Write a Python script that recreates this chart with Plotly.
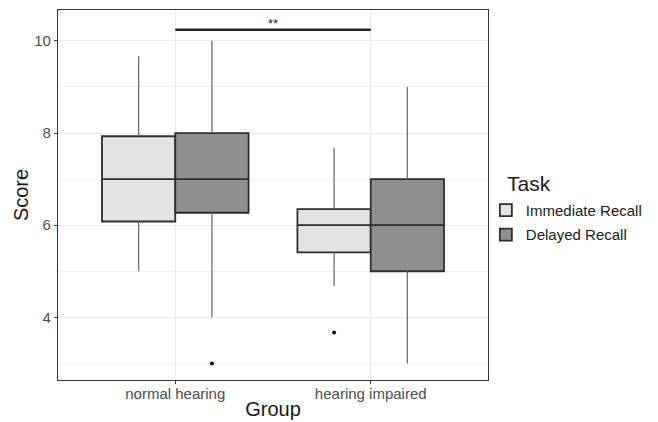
import plotly.graph_objects as go

# ---- data ----
groups = ["normal hearing", "hearing impaired"]
tasks = ["Immediate Recall", "Delayed Recall"]
legend_title = "Task"

imm_low = [5.0, 4.68]
imm_q1 = [6.08, 5.41]
imm_med = [7.0, 6.0]
imm_q3 = [7.93, 6.35]
imm_high = [9.67, 7.68]
imm_outliers = [[], [3.67]]

del_low = [4.0, 3.0]
del_q1 = [6.27, 5.0]
del_med = [7.0, 6.0]
del_q3 = [8.0, 7.0]
del_high = [10.0, 9.0]
del_outliers = [[3.0], []]

sig_pair = ["normal hearing", "hearing impaired"]
sig_y = 10.24
sig_label = "**"

y_ticks = [4, 6, 8, 10]

# ---- styling ----
fills = ["#e3e3e3", "#8f8f8f"]
box_line = "#2e2e2e"
whisk_col = "#6e6e6e"
dodge = 0.75
bw = dodge / 2
FONT = "Liberation Sans, Arial, sans-serif"

series = [
    (tasks[0], imm_low, imm_q1, imm_med, imm_q3, imm_high, imm_outliers),
    (tasks[1], del_low, del_q1, del_med, del_q3, del_high, del_outliers),
]

fig = go.Figure()
centers = list(range(1, len(groups) + 1))

for k, (name, lo, q1, med, q3, hi, outs) in enumerate(series):
    off = -dodge / 4 if k == 0 else dodge / 4
    xs = [c + off for c in centers]
    # whiskers
    wx, wy = [], []
    for i, x in enumerate(xs):
        wx += [x, x, None, x, x, None]
        wy += [lo[i], q1[i], None, q3[i], hi[i], None]
    fig.add_trace(go.Scatter(x=wx, y=wy, mode="lines",
                             line=dict(color=whisk_col, width=1.3),
                             showlegend=False, hoverinfo="skip"))
    # boxes
    fig.add_trace(go.Box(
        name=name, x=xs, q1=q1, median=med, q3=q3,
        lowerfence=q1, upperfence=q3, width=bw,
        fillcolor=fills[k], line=dict(color=box_line, width=1.8),
        whiskerwidth=0, boxpoints=False, legendgroup=name,
    ))
    # outliers
    ox, oy = [], []
    for i, x in enumerate(xs):
        for v in outs[i]:
            ox.append(x)
            oy.append(v)
    if ox:
        fig.add_trace(go.Scatter(x=ox, y=oy, mode="markers",
                                 marker=dict(color="#111111", size=4),
                                 showlegend=False, hoverinfo="skip"))

# significance bracket
x0 = groups.index(sig_pair[0]) + 1
x1 = groups.index(sig_pair[1]) + 1
fig.add_shape(type="line", x0=x0, x1=x1, y0=sig_y, y1=sig_y,
              line=dict(color="#222222", width=2.5), layer="above")
fig.add_annotation(x=(x0 + x1) / 2, y=sig_y, text=sig_label, showarrow=False,
                   yanchor="bottom", yshift=-3, font=dict(size=13, color="#222222", family=FONT))

# legend title as annotation
fig.add_annotation(xref="paper", yref="paper", x=1.04, y=0.53, xanchor="left",
                   yanchor="middle", text=legend_title, showarrow=False,
                   font=dict(size=21, color="#1a1a1a", family=FONT))

# page body has an 8px default margin, so the figure is 8px smaller and
# margins are shifted to land the panel where the reference has it
fig.update_layout(
    width=650, height=414,
    margin=dict(l=50, r=170, t=2, b=42),
    paper_bgcolor="white", plot_bgcolor="white",
    font=dict(family=FONT, color="#4d4d4d"),
    showlegend=True,
    legend=dict(
        x=0.995, xanchor="left", y=0.503, yanchor="top",
        font=dict(size=15, color="#1a1a1a"),
        tracegroupgap=2, itemwidth=30, bgcolor="rgba(0,0,0,0)",
    ),
    xaxis=dict(
        range=[0.4, 2.6], tickmode="array", tickvals=centers, ticktext=groups,
        showgrid=True, gridcolor="#ebebeb", gridwidth=1, zeroline=False,
        showline=True, mirror=True, linecolor="#333333", linewidth=1.2,
        ticks="outside", ticklen=3, tickcolor="#333333",
        tickfont=dict(size=15, color="#4d4d4d"), automargin=False,
        ticklabelstandoff=-3,
        title=dict(text="Group", font=dict(size=20, color="#1a1a1a"), standoff=0),
    ),
    yaxis=dict(
        range=[2.64, 10.67], tickmode="array", tickvals=y_ticks,
        showgrid=True, gridcolor="#ebebeb", gridwidth=1, zeroline=False,
        minor=dict(dtick=1, tick0=0, showgrid=True, gridcolor="#f0f0f0", gridwidth=0.8),
        showline=True, mirror=True, linecolor="#333333", linewidth=1.2,
        ticks="outside", ticklen=3, tickcolor="#333333",
        tickfont=dict(size=15, color="#4d4d4d"), automargin=False,
        title=dict(text="Score", font=dict(size=20, color="#1a1a1a"), standoff=0),
    ),
)

fig.write_html("out.html")
